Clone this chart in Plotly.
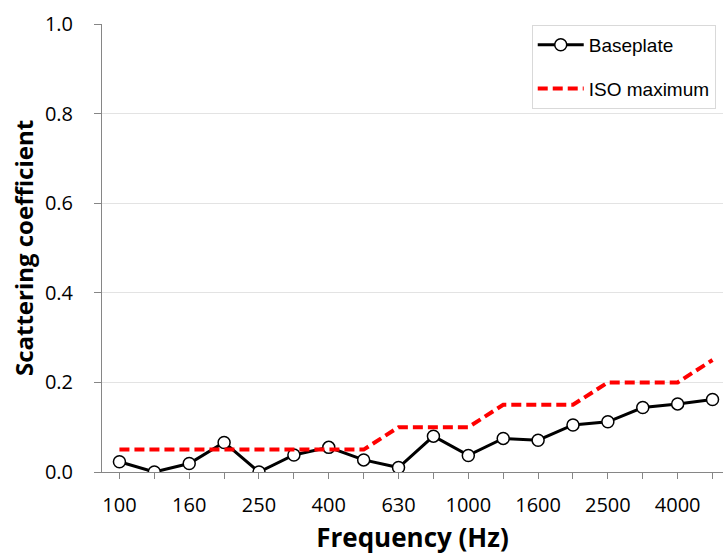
import plotly.graph_objects as go

# One-third-octave band centre frequencies (Hz)
bands = ["100", "125", "160", "200", "250", "315", "400", "500", "630",
         "800", "1000", "1250", "1600", "2000", "2500", "3150", "4000", "5000"]

# Measured scattering coefficient of the baseplate
baseplate = [0.023, 0.0, 0.019, 0.066, 0.0, 0.038, 0.055, 0.027, 0.010,
             0.080, 0.037, 0.075, 0.071, 0.105, 0.112, 0.144, 0.152, 0.162]

# ISO maximum allowed baseplate scattering coefficient
iso_max = [0.05, 0.05, 0.05, 0.05, 0.05, 0.05, 0.05, 0.05, 0.10,
           0.10, 0.10, 0.15, 0.15, 0.15, 0.20, 0.20, 0.20, 0.25]

# Only every other band is labelled on the axis
labelled = {"100", "160", "250", "400", "630", "1000", "1600", "2500", "4000"}
tick_text = [b if b in labelled else "" for b in bands]

y_ticks = [0.0, 0.2, 0.4, 0.6, 0.8, 1.0]

tick_font = dict(family="'Open Sans', Lato, sans-serif", size=20, color="#000000")
x_title_font = dict(family="'Open Sans', Lato, sans-serif", size=26, color="#000000")
y_title_font = dict(family="'Open Sans', Lato, sans-serif", size=24, color="#000000")

fig = go.Figure()

fig.add_trace(go.Scatter(
    x=bands, y=baseplate, name="Baseplate", mode="lines+markers",
    line=dict(color="#000000", width=3),
    marker=dict(symbol="circle", size=12, color="#ffffff",
                line=dict(color="#000000", width=1.5)),
    legendgroup="a",
))

fig.add_trace(go.Scatter(
    x=bands, y=iso_max, name="ISO maximum", mode="lines",
    line=dict(color="#ff0000", width=4, dash="10px,5px"),
    legendgroup="b",
))

fig.update_layout(
    width=723, height=555,
    margin=dict(l=102, r=0, t=24, b=83),
    paper_bgcolor="#ffffff", plot_bgcolor="#ffffff",
    showlegend=True,
    legend=dict(
        x=0.692, y=0.998, xanchor="left", yanchor="top",
        bgcolor="#ffffff", bordercolor="#d9d9d9", borderwidth=1,
        font=dict(family="'Liberation Sans', Arial, sans-serif", size=19, color="#000000"),
        traceorder="grouped", tracegroupgap=16, itemwidth=46,
    ),
    xaxis=dict(
        type="category", range=[-0.5, 17.3],
        tickmode="array", tickvals=bands, ticktext=tick_text,
        ticks="outside", ticklen=6, tickcolor="#868686", tickwidth=1,
        showline=True, linecolor="#868686", linewidth=1,
        showgrid=False, zeroline=False,
        tickfont=tick_font, ticklabelstandoff=9,
        title=dict(text="<b>Frequency (Hz)</b>", font=x_title_font, standoff=22),
        automargin=False,
    ),
    yaxis=dict(
        range=[0, 1.0], tickmode="array", tickvals=y_ticks,
        ticktext=[f"{v:.1f}" for v in y_ticks],
        ticks="outside", ticklen=7, tickcolor="#868686", tickwidth=1,
        showline=True, linecolor="#868686", linewidth=1,
        showgrid=True, gridcolor="#e3e3e3", gridwidth=1, zeroline=False,
        tickfont=tick_font, ticklabelstandoff=17,
        title=dict(text="<b>Scattering coefficient</b>", font=y_title_font, standoff=4),
        automargin=False,
    ),
)

fig.write_html("out.html")
